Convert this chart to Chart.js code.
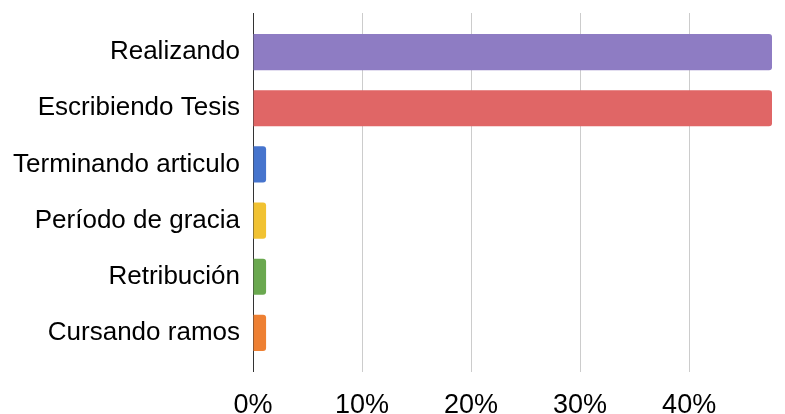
<!DOCTYPE html>
<html lang="es">
<head>
  <meta charset="UTF-8">
  <title>Estado</title>
  <script src="https://cdn.jsdelivr.net/npm/chart.js"></script>
  <style>
    html, body {
      margin: 0;
      padding: 0;
      background: #fff;
      overflow: hidden;
    }
    .frame {
      width: 785px;
      height: 414px;
      overflow: hidden;
    }
    /* canvas is a bit taller than the frame so the tick labels get clipped like the original */
    .chart-box {
      width: 785px;
      height: 439px;
      position: relative;
    }
  </style>
</head>
<body>
  <div class="frame">
    <div class="chart-box">
      <canvas id="estadoChart"></canvas>
    </div>
  </div>

  <script>
    // Values (percent of respondents)
    const categories = ["Realizando", "Escribiendo Tesis", "Terminando articulo", "Período de gracia", "Retribución", "Cursando ramos"];
    const percentages = [47.6, 47.6, 1.2, 1.2, 1.2, 1.2];
    const barColors = ["#8e7cc3", "#e06666", "#4674cd", "#f1c232", "#6aa84f", "#ee8033"];
    const tickValues = [0, 10, 20, 30, 40];
    const axisMax = 47.6;

    const fontFamily = "'Liberation Sans', Arial, sans-serif";

    function gridColor(ctx) {
      return ctx.tick && ctx.tick.value === 0 ? "#333333" : "#cccccc";
    }

    function useTickValues(scale) {
      scale.ticks = tickValues.map(v => ({ value: v }));
    }

    const ctx = document.getElementById("estadoChart").getContext("2d");
    new Chart(ctx, {
      type: "bar",
      data: {
        labels: categories,
        datasets: [{
          data: percentages,
          backgroundColor: barColors,
          borderRadius: 3,
          borderSkipped: "start",
          barPercentage: 0.643,
          categoryPercentage: 1.0
        }]
      },
      options: {
        indexAxis: "y",
        responsive: true,
        maintainAspectRatio: false,
        animation: false,
        layout: {
          padding: { top: 13, right: 13, left: 0, bottom: 0 }
        },
        plugins: {
          legend: { display: false },
          tooltip: { enabled: false }
        },
        scales: {
          x: {
            position: "bottom",
            min: 0,
            max: axisMax,
            afterBuildTicks: useTickValues,
            border: { display: false },
            grid: {
              color: gridColor,
              lineWidth: 1,
              drawTicks: true,
              tickLength: 11
            },
            ticks: {
              padding: 20,
              color: "#000000",
              font: { family: fontFamily, size: 27, lineHeight: 1 },
              callback: v => v + "%"
            }
          },
          xTop: {
            position: "top",
            axis: "x",
            min: 0,
            max: axisMax,
            afterBuildTicks: useTickValues,
            border: { display: false },
            grid: {
              color: gridColor,
              drawOnChartArea: false,
              drawTicks: true,
              tickLength: 11
            },
            ticks: { display: false }
          },
          y: {
            afterFit: scale => {
              scale.width = 253;
              // labels sit inside their bands, no extra room needed above/below
              scale.paddingTop = 0;
              scale.paddingBottom = 0;
            },
            border: { display: false },
            grid: { display: false, drawTicks: false },
            ticks: {
              padding: 13,
              color: "#000000",
              font: { family: fontFamily, size: 26 }
            }
          }
        }
      }
    });
  </script>
</body>
</html>
